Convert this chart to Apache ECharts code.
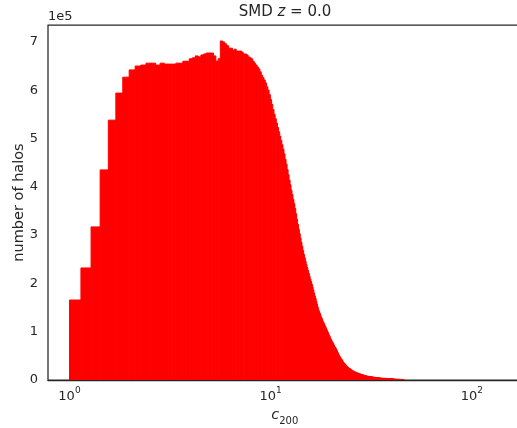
<!DOCTYPE html>
<html><head><meta charset="utf-8">
<script src="https://cdn.jsdelivr.net/npm/echarts@6/dist/echarts.min.js"></script>
<style>html,body{margin:0;padding:0;background:#fff}#c{width:517px;height:428px}</style>
</head><body><div id="c"></div>
<script>
// Histogram bins: linear bins in c200 starting at binStart with width binWidth
const binStart = 1.0;
const binWidth = 0.14;
// number of halos per bin, in units of 1e5
const countsE5 = [
1.656,2.32,3.17,4.35,5.38,5.94,6.27,6.42,6.50,6.52,
6.56,6.56,6.52,6.56,6.54,6.54,6.54,6.56,6.56,6.60,
6.60,6.65,6.67,6.71,6.69,6.73,6.75,6.77,6.77,6.77,
6.71,6.60,6.65,7.02,7.00,6.96,6.92,6.87,6.87,6.83,
6.85,6.81,6.81,6.81,6.79,6.75,6.75,6.73,6.69,6.67,
6.65,6.60,6.56,6.52,6.48,6.44,6.38,6.31,6.26,6.21,
6.15,6.07,6.00,5.91,5.81,5.71,5.60,5.50,5.41,5.32,
5.23,5.14,5.05,4.96,4.87,4.78,4.68,4.57,4.47,4.36,
4.25,4.14,4.04,3.93,3.84,3.74,3.65,3.55,3.44,3.33,
3.22,3.12,3.03,2.94,2.85,2.77,2.68,2.60,2.53,2.46,
2.39,2.33,2.27,2.21,2.15,2.09,2.04,1.98,1.92,1.86,
1.80,1.74,1.69,1.63,1.57,1.51,1.46,1.42,1.38,1.34,
1.30,1.27,1.23,1.20,1.17,1.14,1.11,1.08,1.05,1.02,
0.99,0.96,0.93,0.90,0.87,0.84,0.82,0.79,0.77,0.75,
0.72,0.70,0.68,0.66,0.63,0.61,0.58,0.56,0.53,0.51,
0.49,0.47,0.45,0.43,0.42,0.40,0.38,0.37,0.35,0.34,
0.33,0.32,0.30,0.29,0.28,0.27,0.26,0.25,0.24,0.24,
0.23,0.22,0.21,0.21,0.20,0.19,0.19,0.18,0.18,0.17,
0.17,0.16,0.16,0.15,0.15,0.15,0.14,0.14,0.14,0.13,
0.13,0.13,0.12,0.12,0.12,0.115,0.112,0.11,0.107,0.104,
0.10,0.098,0.095,0.093,0.09,0.088,0.086,0.084,0.082,0.08,
0.078,0.077,0.076,0.075,0.074,0.073,0.072,0.071,0.070,0.069,
0.068,0.066,0.064,0.062,0.061,0.059,0.058,0.056,0.055,0.054,
0.053,0.052,0.051,0.050,0.050,0.049,0.048,0.047,0.047,0.046,
0.045,0.044,0.044,0.043,0.042,0.041,0.040,0.040,0.039,0.039,
0.038,0.038,0.037,0.037,0.036,0.036,0.035,0.035,0.034,0.034,
0.033,0.033,0.033,0.032,0.032,0.031,0.031,0.031,0.030,0.030,
0.030,0.029,0.029,0.029,0.028,0.028,0.027,0.027,0.026,0.026,
0.025,0.025,0.024,0.024,0.023,0.023,0.022,0.022,0.021,0.021,
0.020,0.020,0.019,0.019,0.018,0.018,0.017,0.017,0.016,0.016,
0.016,0.015,0.015,0.015,0.014,0.014,0.014,0.013,0.013,0.013,
0.012,0.012,0.012,0.012,0.011,0.011,0.011,0.011,0.010,0.010,
0.010
];
const xTickValues = [1, 10, 100];
const xTickExponents = ['0', '1', '2'];
const yTickValues = [0, 1, 2, 3, 4, 5, 6, 7];
const xLimits = [0.782, 176.6];   // c200 range of the axes
const yLimits = [0, 7.35];        // in units of 1e5
const titleParts = ['SMD ', 'z', ' = 0.0'];
const yAxisTitle = 'number of halos';
const xAxisTitle = ['c', '200'];
const yOffsetText = '1e5';

const FONT = 'DejaVu Sans';
const TXT = '#262626';
const BAR = '#ff0000';

const data = countsE5.map((v, i) => {
  const lo = binStart + i * binWidth, hi = lo + binWidth;
  return [Math.log10(lo), Math.log10(hi), v];
});

const chart = echarts.init(document.getElementById('c'), null, {renderer: 'canvas'});
chart.setOption({
  animation: false,
  backgroundColor: '#ffffff',
  grid: {left: 48, top: 25, width: 473.6, height: 355, outerBoundsMode: 'none', containLabel: false,
         show: true, borderColor: TXT, borderWidth: 1.25, backgroundColor: 'transparent'},
  xAxis: {
    type: 'value', min: Math.log10(xLimits[0]), max: Math.log10(xLimits[1]), z: 10,
    axisLine: {show: true, onZero: false, lineStyle: {color: TXT, width: 1.25}},
    axisTick: {show: false}, splitLine: {show: false},
    axisLabel: {
      customValues: xTickValues.map(v => Math.log10(v)),
      margin: 6,
      formatter: v => {
        const k = xTickValues.findIndex(t => Math.abs(Math.log10(t) - v) < 1e-6);
        return '{b|10}{s|' + xTickExponents[k] + '}';
      },
      rich: {
        b: {fontFamily: FONT, fontSize: 13, color: TXT, lineHeight: 17, verticalAlign: 'bottom'},
        s: {fontFamily: FONT, fontSize: 9, color: TXT, lineHeight: 9, verticalAlign: 'top'}
      }
    },
    name: '{c|' + xAxisTitle[0] + '}{sub|' + xAxisTitle[1] + '}',
    nameLocation: 'middle', nameGap: 28, nameMoveOverlap: false,
    nameTextStyle: {
      rich: {
        c: {fontFamily: FONT, fontSize: 14.5, fontStyle: 'italic', color: TXT, lineHeight: 18, verticalAlign: 'top'},
        sub: {fontFamily: FONT, fontSize: 10, color: TXT, lineHeight: 10, verticalAlign: 'bottom'}
      }
    }
  },
  yAxis: {
    type: 'value', min: yLimits[0], max: yLimits[1], z: 10,
    axisLine: {show: false}, axisTick: {show: false}, splitLine: {show: false},
    axisLabel: {customValues: yTickValues, margin: 10, fontFamily: FONT, fontSize: 13, color: TXT, formatter: v => String(v)},
    name: yAxisTitle, nameLocation: 'middle', nameGap: 21, nameMoveOverlap: false,
    nameTextStyle: {fontFamily: FONT, fontSize: 14.5, color: TXT}
  },
  graphic: [
    {type: 'text', left: 48, top: 10, style: {text: yOffsetText, font: '13px "DejaVu Sans"', fill: TXT}},
    {type: 'text', x: 285, y: 12, style: {
      text: '{n|' + titleParts[0] + '}{i|' + titleParts[1] + '}{n|' + titleParts[2] + '}',
      align: 'center', verticalAlign: 'middle',
      rich: {
        n: {fontFamily: FONT, fontSize: 15, fill: TXT},
        i: {fontFamily: FONT, fontSize: 15, fontStyle: 'italic', fill: TXT}
      }
    }}
  ],
  series: [{
    type: 'custom', z: 2, silent: true,
    encode: {x: [0, 1], y: 2},
    data: data,
    renderItem: (params, api) => {
      const p0 = api.coord([api.value(0), api.value(2)]);
      const p1 = api.coord([api.value(1), 0]);
      return {
        type: 'rect',
        shape: {x: p0[0], y: p0[1], width: p1[0] - p0[0], height: p1[1] - p0[1]},
        style: {fill: BAR, stroke: BAR, lineWidth: 1}
      };
    }
  }]
});
</script>
</body></html>
